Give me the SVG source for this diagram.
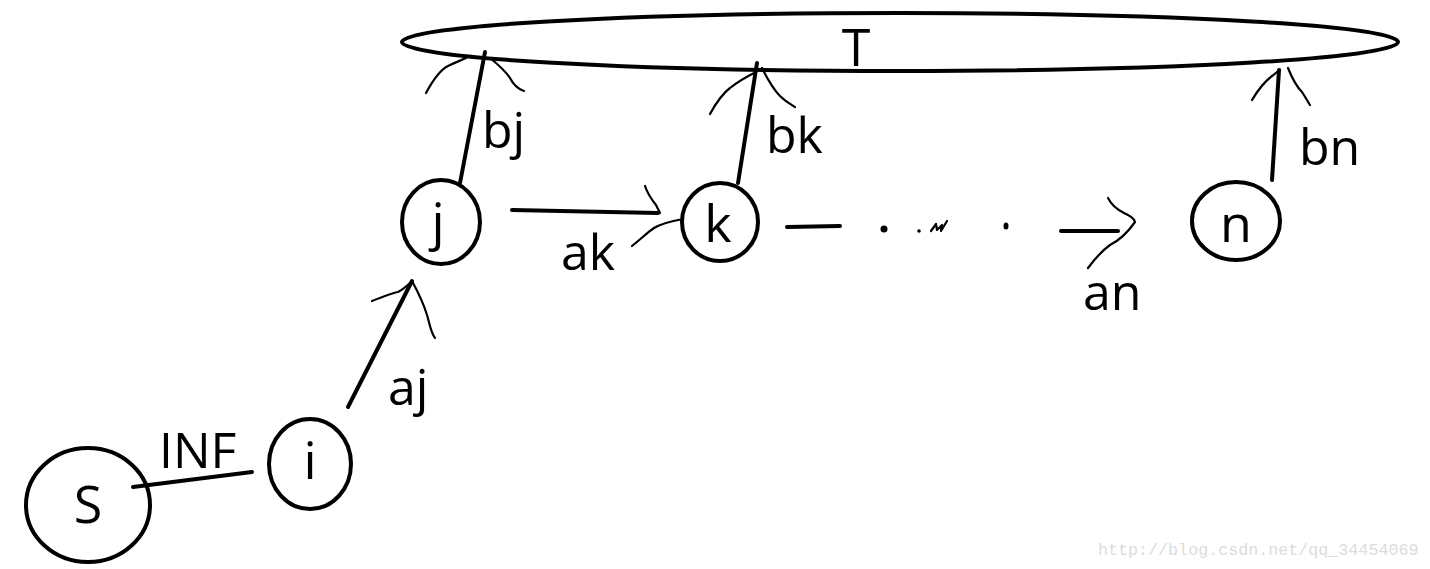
<svg xmlns="http://www.w3.org/2000/svg" width="1430" height="569" viewBox="0 0 1430 569">
<style>
.node{fill:none;stroke:#000;stroke-width:4}
.edge{fill:none;stroke:#000;stroke-width:4;stroke-linecap:round}
.head{fill:none;stroke:#000;stroke-width:2.2;stroke-linecap:round;stroke-linejoin:round}
.lbl{font-family:"Open Sans","Liberation Sans",sans-serif;font-size:50px;fill:#000}
.nl{font-family:"Open Sans","Liberation Sans",sans-serif;font-size:52px;fill:#000;text-anchor:middle}
.wm{font-family:"Liberation Mono",monospace;font-size:16.7px;fill:#dcdcdc}
</style>
<rect width="1430" height="569" fill="#fff"/>
<g id="T">
<ellipse class="node" cx="900" cy="42" rx="498" ry="29"/>
<text class="nl" x="856" y="66">T</text>
</g>
<g id="S">
<ellipse class="node" cx="88" cy="505" rx="62" ry="57"/>
<text class="nl" x="88" y="523">S</text>
</g>
<g id="i">
<ellipse class="node" cx="310" cy="464" rx="41" ry="45"/>
<text class="nl" x="310" y="479">i</text>
</g>
<g id="j">
<ellipse class="node" cx="441" cy="222" rx="39" ry="42"/>
<text class="nl" x="438" y="240">j</text>
</g>
<g id="k">
<ellipse class="node" cx="720" cy="222" rx="38" ry="39"/>
<text class="nl" x="718" y="242">k</text>
</g>
<g id="n">
<ellipse class="node" cx="1236" cy="221" rx="44" ry="39"/>
<text class="nl" x="1236" y="242">n</text>
</g>
<g id="connectors">
<line class="edge" x1="133" y1="487" x2="252" y2="472"/>
<line class="edge" x1="348" y1="407" x2="412" y2="281"/>
<path class="head" d="M372 301 C382 297 392 293 398 292 C404 289 408 285 412 281 C418 292 424 305 427 315 C430 325 431 333 435 338"/>
<line class="edge" x1="460" y1="183" x2="485" y2="52"/>
<path class="head" d="M426 93 C433 80 440 70 448 66 C456 62 462 60 466 58"/>
<path class="head" d="M490 58 C500 66 506 72 510 78 C514 86 518 89 524 91"/>
<line class="edge" x1="512" y1="210" x2="658" y2="213"/>
<path class="head" d="M645 186 C648 195 652 200 656 205 L660 213"/>
<path class="head" d="M632 246 C642 238 648 232 654 228 C662 223 672 221 683 219"/>
<line class="edge" x1="738" y1="183" x2="757" y2="63"/>
<path class="head" d="M710 114 C716 103 722 94 730 88 C740 80 748 76 756 72"/>
<path class="head" d="M762 68 C768 80 774 90 780 96 C786 102 790 104 795 107"/>
<line class="edge" x1="787" y1="227" x2="840" y2="226"/>
<circle cx="884" cy="229" r="3.5" fill="#000"/>
<circle cx="919" cy="231" r="1.8" fill="#000"/>
<path class="head" d="M931 231 L936 224 L937 230 L942 225 L941 231 L947 221" stroke-width="3"/>
<ellipse cx="1006" cy="226" rx="2.5" ry="3.5" fill="#000"/>
<line class="edge" x1="1061" y1="231" x2="1118" y2="231"/>
<path class="head" d="M1108 198 C1112 206 1118 210 1124 213 C1130 216 1134 218 1135 222 C1128 232 1120 240 1110 245 C1100 252 1094 260 1088 268"/>
<line class="edge" x1="1272" y1="180" x2="1279" y2="70"/>
<path class="head" d="M1252 100 C1258 90 1264 82 1272 76 C1276 73 1278 71 1280 70"/>
<path class="head" d="M1288 68 C1292 78 1296 86 1302 92 C1306 98 1308 102 1310 105"/>
</g>
<g id="labels">
<text class="lbl" x="159" y="468">INF</text>
<text class="lbl" x="388" y="405">aj</text>
<text class="lbl" x="482" y="148">bj</text>
<text class="lbl" x="766" y="153">bk</text>
<text class="lbl" x="1299" y="165">bn</text>
<text class="lbl" x="561" y="270">ak</text>
<text class="lbl" x="1083" y="310">an</text>
</g>
<text class="wm" x="1098" y="555">http://blog.csdn.net/qq_34454069</text>
</svg>
